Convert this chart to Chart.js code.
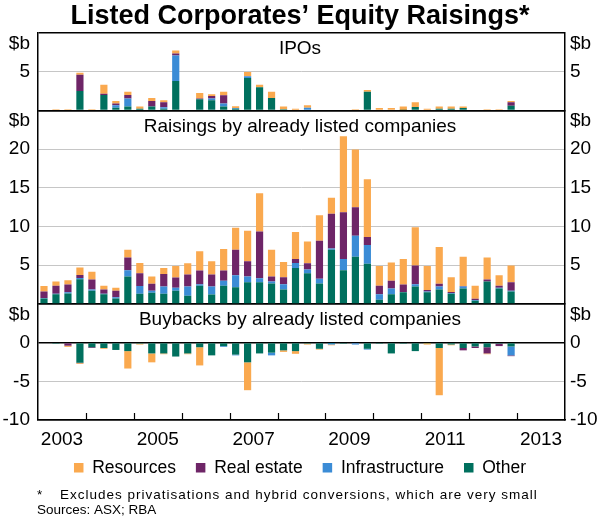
<!DOCTYPE html>
<html>
<head>
<meta charset="utf-8">
<script src="https://cdn.jsdelivr.net/npm/chart.js@4.4.1/dist/chart.umd.min.js"></script>
<style>
  html, body { margin: 0; padding: 0; background: #fff; }
</style>
</head>
<body>
<canvas id="graph" width="600" height="520"></canvas>
<script>
const FONT = '"Liberation Sans", Arial, sans-serif';

const quarters = [
  'Mar-03', 'Jun-03', 'Sep-03', 'Dec-03', 'Mar-04', 'Jun-04', 'Sep-04', 'Dec-04',
  'Mar-05', 'Jun-05', 'Sep-05', 'Dec-05', 'Mar-06', 'Jun-06', 'Sep-06', 'Dec-06',
  'Mar-07', 'Jun-07', 'Sep-07', 'Dec-07', 'Mar-08', 'Jun-08', 'Sep-08', 'Dec-08',
  'Mar-09', 'Jun-09', 'Sep-09', 'Dec-09', 'Mar-10', 'Jun-10', 'Sep-10', 'Dec-10',
  'Mar-11', 'Jun-11', 'Sep-11', 'Dec-11', 'Mar-12', 'Jun-12', 'Sep-12', 'Dec-12',
  'Mar-13', 'Jun-13', 'Sep-13', 'Dec-13'
];
const yearLabels = [2003, 2005, 2007, 2009, 2011, 2013];
const yearBoundaries = [2004, 2005, 2006, 2007, 2008, 2009, 2010, 2011, 2012, 2013];

const sectors = ['Other', 'Infrastructure', 'Real estate', 'Resources'];
const colors = ['#00705e', '#3b8cd6', '#6e2567', '#faa94f'];
const panelTitles = ['IPOs', 'Raisings by already listed companies', 'Buybacks by already listed companies'];
const footnote = 'Excludes privatisations and hybrid conversions, which are very small';
const sources = 'Sources: ASX; RBA';

// IPOs ($b)
const ipoOther = [0, 0, 0, 2.5, 0, 2.0, 0.35, 0.5, 0.2, 0.5, 0.2, 3.8, 0, 1.45, 1.3, 0.5, 0.2, 4.2, 3.0, 1.6,
  0.15, 0, 0.1, 0, 0, 0, 0, 2.4, 0, 0, 0.05, 0.45, 0, 0.2, 0.2, 0.3, 0, 0, 0, 0.6];
const ipoInfra = [0, 0, 0, 0, 0, 0, 0.3, 1.05, 0, 0, 0.2, 3.3, 0, 0, 0.25, 0.4, 0.1, 0.2, 0, 0,
  0, 0, 0.25, 0, 0, 0, 0, 0, 0, 0, 0, 0, 0, 0, 0, 0, 0, 0, 0, 0];
const ipoRealEstate = [0, 0, 0, 2.1, 0, 0.15, 0.25, 0.45, 0, 0.7, 0.65, 0.25, 0, 0.1, 0.3, 1.05, 0, 0, 0, 0,
  0, 0, 0, 0, 0, 0, 0, 0, 0, 0, 0, 0, 0, 0, 0, 0, 0, 0, 0, 0.45];
const ipoResources = [0, 0.15, 0.15, 0.25, 0.15, 1.15, 0.3, 0.4, 0.3, 0.4, 0.25, 0.4, 0.1, 0.7, 0.25, 0.45, 0.25, 0.55, 0.3, 0.8,
  0.35, 0.2, 0.3, 0, 0, 0, 0.15, 0.25, 0.3, 0.3, 0.45, 0.6, 0.2, 0.3, 0.3, 0.2, 0, 0.15, 0.15, 0.15];

// Raisings by already listed companies ($b)
const raiseOther = [0.7, 1.25, 1.35, 3.2, 1.7, 1.25, 0.7, 3.55, 1.3, 1.45, 1.3, 1.7, 1.05, 2.35, 1.2, 2.35, 2.15, 2.8, 2.8, 2.65,
  1.85, 4.65, 3.95, 2.65, 7.0, 4.35, 6.1, 5.2, 0.55, 1.25, 1.5, 2.25, 1.5, 1.85, 1.3, 2.0, 0.4, 2.9, 2.0, 1.6];
const raiseInfra = [0.05, 0.05, 0.15, 0.15, 0.15, 0.05, 0.15, 0.8, 1.0, 0.25, 0.95, 0.4, 1.2, 0.2, 1.05, 0.65, 1.55, 0.75, 0.5, 0.25,
  0.7, 0.65, 0.5, 0.6, 0.15, 1.45, 2.7, 2.4, 0.7, 0.75, 0.05, 0.3, 0.1, 0.4, 0.1, 0.25, 0.1, 0, 0.1, 0.1];
const raiseRealEstate = [0.85, 1.05, 1.0, 0.4, 1.3, 0.55, 0.85, 1.65, 1.65, 0.9, 1.6, 1.3, 1.55, 1.75, 1.55, 1.3, 3.3, 1.95, 6.05, 0.65,
  0.9, 0.5, 0.8, 4.9, 4.5, 6.05, 3.7, 1.05, 1.1, 1.0, 0.95, 2.4, 0.2, 0.35, 0.15, 0.05, 0.15, 0.25, 0.25, 1.1];
const raiseResources = [0.7, 0.55, 0.55, 0.95, 1.0, 0.5, 0.4, 1.0, 1.35, 0.95, 0.8, 1.5, 1.45, 2.5, 1.7, 2.8, 2.85, 3.95, 4.95, 3.45,
  1.95, 3.5, 2.8, 3.3, 2.05, 9.8, 7.45, 7.45, 2.55, 2.35, 3.3, 4.95, 3.1, 4.75, 1.9, 3.8, 1.7, 2.85, 1.35, 2.15];

// Buybacks by already listed companies ($b)
const buyOther = [0, -0.15, -0.1, -2.6, -0.6, -0.7, -0.95, -1.1, -0.15, -1.4, -1.4, -1.8, -1.4, -0.6, -1.65, -0.45, -1.55, -2.55, -1.4, -1.3,
  -1.0, -1.1, -0.15, -0.8, -0.05, -0.15, -0.1, -0.8, -0.15, -1.4, -0.15, -1.1, -0.05, -0.7, -0.25, -0.7, -0.5, -0.6, -0.15, -0.5];
const buyInfra = [0, 0, 0, 0, 0, 0, 0, 0, 0, 0, 0, 0, 0, 0, 0, -0.1, -0.1, 0, 0, -0.35,
  0, 0, 0, 0, -0.2, 0, -0.15, -0.1, 0, 0, 0, 0, 0, 0, 0, 0, 0, 0, 0, -1.15];
const buyRealEstate = [0, 0, -0.3, -0.05, -0.1, 0, 0, 0, 0, 0, 0, 0, 0, 0, 0, 0, 0, 0, 0, 0,
  0, 0, 0, 0, 0, 0, 0, 0, 0, 0, 0, 0, 0, 0, 0, -0.3, -0.2, -0.8, -0.3, -0.1];
const buyResources = [0, 0, -0.15, -0.1, 0, -0.1, 0, -2.25, -0.1, -1.15, -0.1, 0, -0.1, -2.35, 0, 0, 0, -3.6, 0, 0,
  -0.2, -0.35, -0.1, -0.1, -0.1, 0, 0, 0, 0, 0, 0, 0, -0.2, -6.1, -0.1, 0, 0, -0.1, 0, 0];

const panels = [
  { axis: 'yIpo', series: [ipoOther, ipoInfra, ipoRealEstate, ipoResources] },
  { axis: 'yRaise', series: [raiseOther, raiseInfra, raiseRealEstate, raiseResources] },
  { axis: 'yBuy', series: [buyOther, buyInfra, buyRealEstate, buyResources] }
];

window.onload = function () {
  init();
};

function panelAxis(position, min, max, order) {
  const left = position === 'left';
  const dark = (c) => c.tick.value === min || c.tick.value === max || c.tick.value === 0;
  return {
    type: 'linear',
    position: position,
    min: min,
    max: max,
    stacked: true,
    stack: position,
    stackWeight: max - min,
    weight: order,
    afterFit: (axis) => { axis.width = left ? 38 : 35; },
    border: { color: '#000', width: 1.5 },
    grid: {
      drawOnChartArea: left,
      drawTicks: false,
      color: (c) => dark(c) ? '#000' : '#c6c6c6',
      lineWidth: (c) => dark(c) ? 1.5 : 1
    },
    ticks: {
      stepSize: 5,
      autoSkip: false,
      padding: left ? 8 : 5,
      color: '#000',
      font: { family: FONT, size: 19, lineHeight: 1.1 },
      callback: (v) => {
        if (v === max) return ['', '$b'];
        if (v === min && min === 0) return '';
        return String(v);
      }
    }
  };
}

const annotations = {
  id: 'annotations',
  afterDraw(chart) {
    const ctx = chart.ctx;
    const area = chart.chartArea;
    const xs = chart.scales.xYear;
    ctx.save();
    ctx.strokeStyle = '#000';
    ctx.lineWidth = 1.2;
    yearBoundaries.forEach((yr) => {
      const px = Math.round(xs.getPixelForValue(yr)) + 0.5;
      ctx.beginPath();
      ctx.moveTo(px, area.bottom);
      ctx.lineTo(px, area.bottom - 7);
      ctx.stroke();
    });

    ctx.fillStyle = '#000';
    ctx.textAlign = 'center';
    ctx.textBaseline = 'middle';
    ctx.font = '19px ' + FONT;
    panels.forEach((p, i) => {
      ctx.fillText(panelTitles[i], chart.width / 2, chart.scales[p.axis].top + 16);
    });

    ctx.textAlign = 'left';
    ctx.font = '13.5px ' + FONT;
    ctx.fillText('*', 37, 495);
    ctx.fillText(sources, 37, 510);
    ctx.letterSpacing = '1px';
    ctx.fillText(footnote, 60, 495);
    ctx.restore();
  }
};

function init() {
  const ctx = document.getElementById('graph').getContext('2d');

  const datasets = [];
  panels.forEach((p) => {
    p.series.forEach((values, i) => {
      datasets.push({
        label: sectors[i],
        data: values,
        yAxisID: p.axis,
        backgroundColor: colors[i],
        borderWidth: 0,
        categoryPercentage: 1,
        barPercentage: 0.6
      });
    });
  });

  const config = {
    type: 'bar',
    data: { labels: quarters, datasets: datasets },
    options: {
      responsive: false,
      animation: false,
      layout: { padding: { left: 0, right: 0, top: 0, bottom: 33.5 } },
      scales: {
        x: { type: 'category', display: false, stacked: true, offset: true },
        xYear: {
          type: 'linear',
          position: 'bottom',
          min: 2003,
          max: 2014,
          offset: false,
          afterFit: (axis) => { axis.height = 19; },
          afterBuildTicks: (axis) => { axis.ticks = yearLabels.map((y) => ({ value: y + 0.5 })); },
          border: { color: '#000', width: 1.5 },
          grid: { drawOnChartArea: false, drawTicks: false, offset: false },
          ticks: {
            autoSkip: false,
            mirror: true,
            maxRotation: 0,
            padding: -31,
            color: '#000',
            font: { family: FONT, size: 19 },
            callback: (v) => String(Math.floor(v))
          }
        },
        yIpo: panelAxis('left', 0, 10, 3),
        yRaise: panelAxis('left', 0, 25, 2),
        yBuy: panelAxis('left', -10, 5, 1),
        rIpo: panelAxis('right', 0, 10, 1),
        rRaise: panelAxis('right', 0, 25, 2),
        rBuy: panelAxis('right', -10, 5, 3)
      },
      plugins: {
        title: {
          display: true,
          text: 'Listed Corporates’ Equity Raisings*',
          color: '#000',
          font: { family: FONT, size: 27, weight: 'bold' },
          padding: { top: 0, bottom: 0.6 }
        },
        legend: {
          position: 'bottom',
          align: 'center',
          reverse: true,
          labels: {
            filter: (item) => item.datasetIndex < 4,
            boxWidth: 9.5,
            boxHeight: 9.5,
            padding: 20,
            color: '#000',
            font: { family: FONT, size: 17.5 }
          }
        },
        tooltip: { enabled: false }
      }
    },
    plugins: [annotations]
  };

  return new Chart(ctx, config);
}
</script>
</body>
</html>
